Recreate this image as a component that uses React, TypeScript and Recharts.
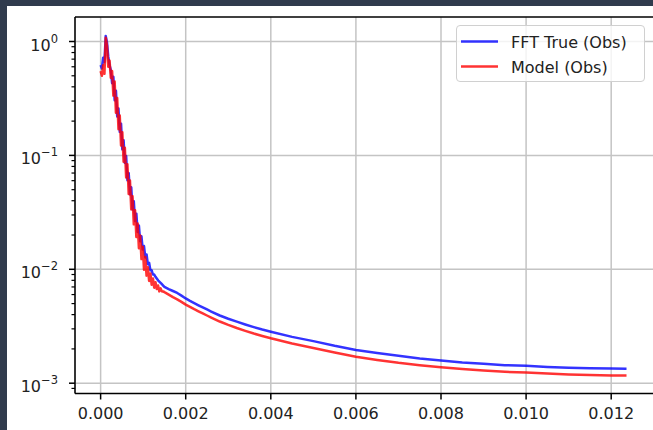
import React from 'react';
import { LineChart, Line, XAxis, YAxis, CartesianGrid, Legend, ReferenceLine } from 'recharts';

const xValues = [
  0, 0.00003, 0.00006, 0.00009, 0.00012, 0.00015, 0.00018, 0.00021, 0.00024, 0.00027,
  0.0003, 0.00033, 0.00036, 0.00039, 0.00042, 0.00045, 0.00048, 0.00051, 0.00054, 0.00057,
  0.0006, 0.00063, 0.00066, 0.00069, 0.00072, 0.00075, 0.00078, 0.00081, 0.00084, 0.00087,
  0.0009, 0.00093, 0.00096, 0.00099, 0.00102, 0.00105, 0.00108, 0.00111, 0.00114, 0.00117,
  0.0012, 0.00123, 0.00126, 0.00129, 0.00132, 0.00135, 0.00138, 0.00141, 0.00144, 0.00147, 0.0015,
  0.0016, 0.0017, 0.0018, 0.0019, 0.002, 0.0021, 0.0022, 0.0023, 0.0024, 0.0025, 0.0026,
  0.0028, 0.003, 0.0032, 0.0034, 0.0036, 0.0038, 0.004,
  0.0045, 0.005, 0.0055, 0.006, 0.0065, 0.007, 0.0075, 0.008, 0.0085, 0.009, 0.0095,
  0.01, 0.0105, 0.011, 0.0115, 0.012, 0.01236,
];

const fftTrue = [
  0.62, 0.58, 0.72, 0.66, 1.12, 0.98, 0.74, 0.62, 0.56, 0.43,
  0.49, 0.305, 0.37, 0.22, 0.258, 0.161, 0.19, 0.113, 0.136, 0.086,
  0.099, 0.0605, 0.07, 0.0455, 0.0525, 0.0335, 0.0396, 0.0265, 0.0308, 0.0213,
  0.0242, 0.0176, 0.0195, 0.0149, 0.016, 0.0127, 0.0135, 0.0111, 0.0114, 0.0098,
  0.0098, 0.009, 0.009, 0.0086, 0.0083, 0.008, 0.0078, 0.0076, 0.0074, 0.0072, 0.007,
  0.0067, 0.00645, 0.0062, 0.00587, 0.00555, 0.00528, 0.00505, 0.00483, 0.00463, 0.00444, 0.00426,
  0.00393, 0.00368, 0.00347, 0.00328, 0.00311, 0.00296, 0.00283,
  0.00255, 0.00234, 0.00213, 0.00196, 0.00184, 0.00174, 0.00165, 0.00158, 0.00152, 0.00148, 0.00144,
  0.00142, 0.00139, 0.00137, 0.001355, 0.001345, 0.00134,
];

const modelObs = [
  0.55, 0.5, 0.62, 0.52, 1.08, 0.92, 0.6, 0.68, 0.48, 0.55,
  0.335, 0.446, 0.237, 0.319, 0.17, 0.224, 0.122, 0.16, 0.088, 0.1166,
  0.064, 0.0836, 0.0458, 0.0602, 0.0336, 0.0439, 0.0248, 0.033, 0.0192, 0.0253,
  0.0153, 0.0198, 0.0123, 0.0158, 0.0099, 0.0128, 0.0088, 0.0104, 0.0079, 0.0092,
  0.0073, 0.0083, 0.0069, 0.0077, 0.0067, 0.0072, 0.0064, 0.0068, 0.0064, 0.0064, 0.0063,
  0.006, 0.0057, 0.00545, 0.00518, 0.0049, 0.00468, 0.00447, 0.00428, 0.0041, 0.00393, 0.00377,
  0.00348, 0.00325, 0.00305, 0.00288, 0.00273, 0.0026, 0.00248,
  0.00223, 0.00204, 0.00186, 0.00171, 0.0016, 0.00151, 0.00144, 0.00138, 0.00133, 0.00129, 0.00126,
  0.00124, 0.001215, 0.001195, 0.00118, 0.00117, 0.001168,
];

const seriesNames = ['FFT True (Obs)', 'Model (Obs)'];
const xTicks = [0, 0.002, 0.004, 0.006, 0.008, 0.01, 0.012];
const yMajorTicks = [0.001, 0.01, 0.1, 1];
const yExponents = ['\u22123', '\u22122', '\u22121', '0'];
const yMinorTicks = [
  0.0009,
  0.002, 0.003, 0.004, 0.005, 0.006, 0.007, 0.008, 0.009,
  0.02, 0.03, 0.04, 0.05, 0.06, 0.07, 0.08, 0.09,
  0.2, 0.3, 0.4, 0.5, 0.6, 0.7, 0.8, 0.9,
];

const data = xValues.map((x, i) => ({ x, fft: fftTrue[i], model: modelObs[i] }));
const allYTicks = [...yMajorTicks, ...yMinorTicks].sort((a, b) => a - b);

const FONT = '"DejaVu Sans", sans-serif';
const BLUE = '#0000ff';
const RED = '#ff0000';
const X_DOMAIN = [-0.000602, 0.013006];
const Y_DOMAIN = [0.000812, 1.641];

const YTick = (props: any) => {
  const { x, y, payload } = props;
  const v = payload.value;
  const idx = yMajorTicks.findIndex((m) => Math.abs(m - v) / m < 1e-6);
  if (idx >= 0) {
    return (
      <g>
        <line x1={x} x2={x - 6} y1={y} y2={y} stroke="#000" strokeWidth={1.5} />
        <text x={x - 17} y={y + 9} textAnchor="end" fontSize={16} fill="#222" fontFamily={FONT}>
          <tspan>10</tspan>
          <tspan dy={-8} fontSize={11.5}>{yExponents[idx]}</tspan>
        </text>
      </g>
    );
  }
  return <line x1={x} x2={x - 3.5} y1={y} y2={y} stroke="#000" strokeWidth={1.2} />;
};

const renderLegend = () => (
  <div
    style={{
      width: 189,
      height: 57,
      boxSizing: 'border-box',
      border: '1px solid #d0d0d0',
      borderRadius: 4,
      background: 'rgba(255,255,255,0.8)',
      position: 'relative',
      fontFamily: FONT,
      fontSize: 16,
      color: '#222',
    }}
  >
    {seriesNames.map((n, i) => (
      <div
        key={n}
        style={{ position: 'absolute', left: 0, top: i === 0 ? 4 : 29, height: 25, display: 'flex', alignItems: 'center', whiteSpace: 'nowrap' }}
      >
        <svg width={54} height={25} style={{ display: 'block' }}>
          <line x1={4} x2={41} y1={11.5} y2={11.5} stroke={i === 0 ? BLUE : RED} strokeOpacity={0.8} strokeWidth={2.5} />
        </svg>
        <span>{n}</span>
      </div>
    ))}
  </div>
);

export default function App() {
  return (
    <div style={{ position: 'fixed', left: 0, top: 0, width: 653, height: 430, background: '#303b4d', overflow: 'hidden' }}>
      <div style={{ position: 'absolute', left: 7, top: 6, right: 0, bottom: 0, background: '#fff' }} />
      <div style={{ position: 'absolute', left: 0, top: 0 }}>
        <LineChart width={660} height={430} data={data} margin={{ top: 17, right: 6, bottom: 0, left: 0 }} style={{ fontFamily: FONT }}>
          <CartesianGrid stroke="#c4c4c4" strokeWidth={1.5} horizontalValues={yMajorTicks} />
          <XAxis
            dataKey="x"
            type="number"
            domain={X_DOMAIN}
            allowDataOverflow
            ticks={xTicks}
            interval={0}
            tickFormatter={(v: number) => v.toFixed(3)}
            height={36.5}
            tickSize={6}
            tickMargin={8}
            axisLine={{ stroke: '#000', strokeWidth: 1.5 }}
            tickLine={{ stroke: '#000', strokeWidth: 1.5 }}
            tick={{ fill: '#222', fontSize: 16, fontFamily: FONT }}
          />
          <YAxis
            type="number"
            scale="log"
            domain={Y_DOMAIN}
            allowDataOverflow
            ticks={allYTicks}
            interval={0}
            width={75}
            tickSize={0}
            tickMargin={0}
            tickLine={false}
            axisLine={{ stroke: '#000', strokeWidth: 1.5 }}
            tick={<YTick />}
          />
          <ReferenceLine y={Y_DOMAIN[1]} stroke="#000" strokeWidth={1.5} ifOverflow="visible" />
          <ReferenceLine x={X_DOMAIN[1]} stroke="#000" strokeWidth={1.5} ifOverflow="visible" />
          <Legend
            layout="vertical"
            align="center"
            verticalAlign="middle"
            content={renderLegend}
            wrapperStyle={{ left: 456, top: 25, width: 189, height: 57 }}
          />
          <Line
            type="linear"
            dataKey="fft"
            name={seriesNames[0]}
            stroke={BLUE}
            strokeOpacity={0.8}
            strokeWidth={2.5}
            strokeLinejoin="round"
            dot={false}
            isAnimationActive={false}
          />
          <Line
            type="linear"
            dataKey="model"
            name={seriesNames[1]}
            stroke={RED}
            strokeOpacity={0.8}
            strokeWidth={2.5}
            strokeLinejoin="round"
            dot={false}
            isAnimationActive={false}
          />
        </LineChart>
      </div>
    </div>
  );
}
